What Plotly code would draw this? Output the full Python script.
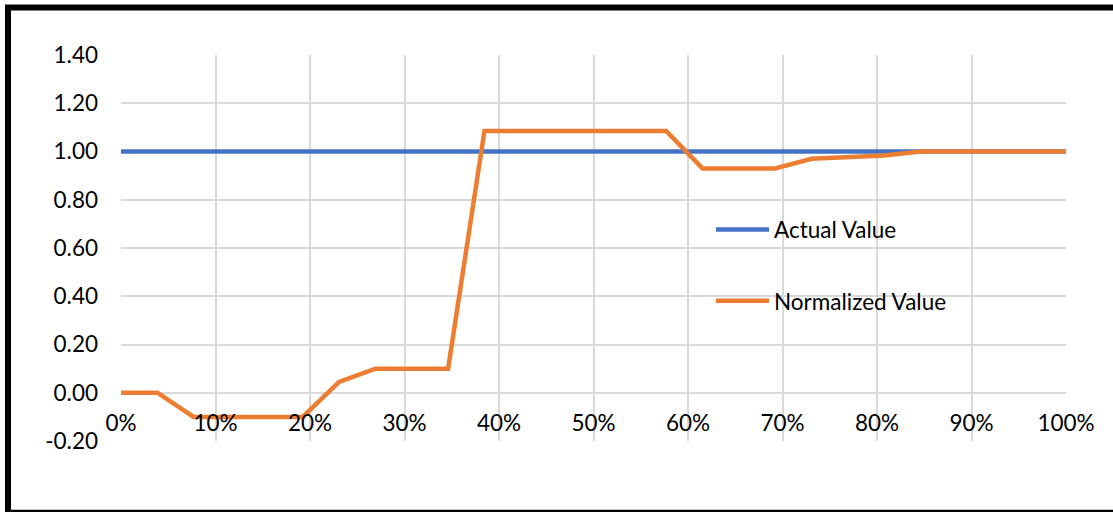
import plotly.graph_objects as go

# Share of the range (0 .. 1) and the two series plotted against it
share = [i / 26 for i in range(27)]
actual_value = [1.00] * 27
normalized_value = [
    0.00, 0.00, -0.10, -0.10, -0.10, -0.10, 0.045, 0.10, 0.10, 0.10,
    1.085, 1.085, 1.085, 1.085, 1.085, 1.085, 0.93, 0.93, 0.93, 0.97,
    0.977, 0.983, 1.00, 1.00, 1.00, 1.00, 1.00,
]

x_tick_values = [i / 10 for i in range(11)]
x_tick_labels = [f"{i * 10}%" for i in range(11)]
y_tick_values = [-0.2, 0.0, 0.2, 0.4, 0.6, 0.8, 1.0, 1.2, 1.4]
y_tick_labels = ["-0.20", "0.00", "0.20", "0.40", "0.60", "0.80", "1.00", "1.20", "1.40"]

FONT = "Lato"
FONT_SIZE = 22.5
GRID = "#d9d9d9"

fig = go.Figure()
fig.add_trace(go.Scatter(
    x=share, y=actual_value, mode="lines", name="Actual Value",
    line=dict(color="#4472C4", width=4.5), legendgroup="a",
))
fig.add_trace(go.Scatter(
    x=share, y=normalized_value, mode="lines", name="Normalized Value",
    line=dict(color="#ED7D31", width=4.5), legendgroup="b",
))

W, H = 1113, 512
L, R, T, B = 121, 1066, 54.6, 440.7
pw, ph = R - L, B - T


def px(x):
    return (x - L) / pw


def py(y):
    return (B - y) / ph


fig.update_layout(
    width=W, height=H,
    margin=dict(l=L, r=W - R, t=T, b=H - B, pad=0),
    paper_bgcolor="white", plot_bgcolor="white",
    font=dict(family=FONT, size=FONT_SIZE, color="#000000"),
    showlegend=True,
    legend=dict(
        x=px(711), y=py(208), xanchor="left", yanchor="top",
        bgcolor="rgba(0,0,0,0)", itemwidth=53,
        tracegroupgap=39, traceorder="grouped",
        font=dict(family=FONT, size=FONT_SIZE, color="#000000"),
    ),
    xaxis=dict(
        range=[0, 1], tickvals=x_tick_values, ticktext=x_tick_labels,
        showgrid=True, gridcolor=GRID, gridwidth=1.6,
        zeroline=False, showline=False, ticks="",
        anchor="free", position=0.125, ticklabelstandoff=15,
        fixedrange=True,
    ),
    yaxis=dict(
        range=[-0.2, 1.4], tickvals=y_tick_values, ticktext=y_tick_labels,
        showgrid=True, gridcolor=GRID, gridwidth=1.6,
        zeroline=False, showline=False, ticks="",
        ticklabelstandoff=22, fixedrange=True,
    ),
    shapes=[
        # outer frame of the chart
        dict(type="rect", xref="paper", yref="paper",
             x0=px(8), x1=px(1125), y0=py(512.5), y1=py(7),
             line=dict(color="black", width=6), layer="above"),
    ],
)

fig.write_html("out.html")
